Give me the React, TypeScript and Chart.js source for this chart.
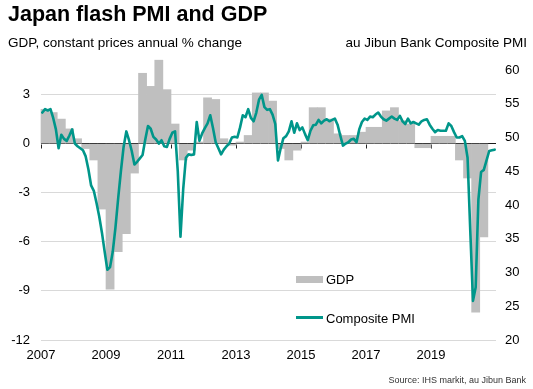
import React, { useEffect, useRef } from "react";
import { Chart, registerables } from "chart.js";

Chart.register(...registerables);

// ---------- data ----------
const gdpStartYear = 2007; // quarterly, from Q1 2007
const gdpValues = [
  2.1, 1.9, 1.5, 0.9,
  0.3, -0.3, -1.0, -4.0,
  -8.9, -6.6, -5.5, -1.8,
  4.3, 3.5, 5.1, 3.3,
  1.2, -1.0, -0.4, 0.1,
  2.8, 2.7, 0.3, -0.1,
  0.1, 0.5, 3.1, 3.1,
  2.6, -0.3, -1.0, -0.4,
  0.1, 2.2, 2.2, 1.5,
  0.6, 0.5, 0.5, 0.7,
  1.0, 1.0, 2.0, 2.2,
  1.4, 1.2, -0.25, -0.25,
  0.45, 0.45, 0.45, -1.0,
  -2.1, -10.3, -5.7,
];

const pmiStartYear = 2007; // monthly, from Jan 2007
const pmiValues = [
  53.7, 54.2, 54.0, 54.2, 52.9, 51.2, 48.4, 50.4, 49.8, 49.5, 50.3, 51.2,
  49.1, 48.7, 48.4, 48.1, 47.2, 45.3, 42.9, 42.1, 40.3, 38.3, 35.9, 33.1,
  30.4, 30.8, 33.1, 36.7, 41.0, 45.0, 48.6, 50.9, 49.6, 48.0, 46.0, 46.4,
  46.9, 47.4, 49.7, 51.7, 51.3, 50.1, 49.7, 49.1, 49.6, 48.7, 48.6, 49.8,
  50.7, 50.9, 45.0, 35.3, 42.3, 47.0, 47.5, 47.4, 47.5, 52.3, 49.5, 50.6,
  51.4, 52.1, 53.3, 51.4, 49.3, 48.4, 47.5, 48.2, 48.7, 49.1, 50.0, 50.1,
  50.0, 51.5, 53.3, 53.0, 54.2, 52.9, 52.4, 53.7, 55.6, 56.3, 54.5, 54.1,
  54.2, 53.4, 52.0, 46.6, 48.4, 49.9, 50.2, 50.9, 52.4, 50.7, 52.1, 51.1,
  51.5, 50.5, 49.6, 51.0, 51.8, 51.9, 52.6, 52.1, 52.5, 52.7, 52.4, 52.6,
  52.8, 51.9, 50.3, 48.8, 49.1, 49.3, 49.7, 49.8, 49.3, 51.2, 52.3, 52.8,
  52.6, 53.1, 53.0, 53.4, 53.7, 53.1, 52.7, 52.5, 52.8, 53.1, 52.8, 52.6,
  53.2, 52.4, 52.0, 52.8, 52.1, 52.3, 52.1, 51.9, 52.4, 52.6, 52.7, 51.9,
  51.3, 50.8, 51.1, 51.0, 51.0, 51.0, 52.1, 51.7, 50.8, 50.0, 50.0, 50.2,
  49.5, 47.0, 36.2, 25.8, 27.8, 40.8, 44.9, 45.2, 46.6, 48.0, 48.1, 48.2,
];

const xTickYears = [2007, 2009, 2011, 2013, 2015, 2017, 2019];
const xRange = [2007, 2021];
const gdpTicks = [-12, -9, -6, -3, 0, 3];
const gdpRange = [-12, 4.5];
const pmiTicks = [20, 25, 30, 35, 40, 45, 50, 55, 60];
const pmiRange = [20, 60];

const TEXT = {
  title: "Japan flash PMI and GDP",
  leftAxis: "GDP, constant prices annual % change",
  rightAxis: "au Jibun Bank Composite PMI",
  gdp: "GDP",
  pmi: "Composite PMI",
  source: "Source: IHS markit, au Jibun Bank",
};

const GRAY = "#bfbfbf";
const TEAL = "#00968a";
const FONT = "'Liberation Sans', Arial, Helvetica, sans-serif";

const zeroTicksPlugin = {
  id: "zeroTicks",
  beforeDatasetsDraw(chart: any) {
    const { ctx, scales } = chart;
    const x = scales.x;
    const y = scales.y;
    const y0 = Math.round(y.getPixelForValue(0)) + 0.5;
    ctx.save();
    ctx.strokeStyle = "#222";
    ctx.lineWidth = 1;
    x.ticks.forEach((t: any) => {
      const px = Math.round(x.getPixelForValue(t.value)) + 0.5;
      ctx.beginPath();
      ctx.moveTo(px, y0);
      ctx.lineTo(px, y0 + 4);
      ctx.stroke();
    });
    ctx.restore();
  },
};

export default function App() {
  const canvasRef = useRef<HTMLCanvasElement | null>(null);

  useEffect(() => {
    const canvas = canvasRef.current;
    if (!canvas) return;
    const gdpPoints = gdpValues.map((v, i) => ({ x: gdpStartYear + (i + 0.5) / 4, y: v }));
    const pmiPoints = pmiValues.map((v, i) => ({ x: pmiStartYear + (i + 0.5) / 12, y: v }));
    const tickFont = { family: FONT, size: 13 };

    const chart = new Chart(canvas, {
      type: "bar",
      data: {
        datasets: [
          {
            type: "line",
            label: TEXT.pmi,
            data: pmiPoints,
            xAxisID: "x",
            yAxisID: "y1",
            borderColor: TEAL,
            backgroundColor: TEAL,
            borderWidth: 2.6,
            pointRadius: 0,
            tension: 0,
            borderJoinStyle: "round",
            borderCapStyle: "round",
            order: 0,
          } as any,
          {
            type: "bar",
            label: TEXT.gdp,
            data: gdpPoints,
            xAxisID: "x",
            yAxisID: "y",
            backgroundColor: GRAY,
            borderWidth: 0,
            barPercentage: 1,
            categoryPercentage: 1,
            clip: false,
            order: 1,
          } as any,
        ],
      },
      options: {
        responsive: false,
        animation: false,
        events: [],
        layout: { padding: { top: 70, left: 0, right: 0, bottom: 0 } },
        plugins: {
          legend: { display: false },
          tooltip: { enabled: false },
          title: { display: false },
        },
        scales: {
          x: {
            type: "linear",
            min: xRange[0],
            max: xRange[1],
            offset: false,
            grid: { display: false, drawTicks: false, offset: false },
            border: { display: false },
            ticks: {
              font: tickFont,
              color: "#000",
              padding: 8,
              maxRotation: 0,
              autoSkip: false,
              callback: (v: any) => String(v),
            },
            afterBuildTicks: (s: any) => {
              s.ticks = xTickYears.map((v) => ({ value: v }));
            },
            afterFit: (s: any) => {
              s.height = 49;
            },
          },
          y: {
            type: "linear",
            position: "left",
            min: gdpRange[0],
            max: gdpRange[1],
            grid: {
              drawTicks: false,
              lineWidth: 1,
              color: (c: any) => (c.tick && c.tick.value === 0 ? "#1a1a1a" : "#d9d9d9"),
            },
            border: { display: false },
            ticks: {
              font: tickFont,
              color: "#000",
              padding: 11,
              callback: (v: any) => String(v),
            },
            afterBuildTicks: (s: any) => {
              s.ticks = gdpTicks.map((v) => ({ value: v }));
            },
            afterFit: (s: any) => {
              s.width = 41;
            },
          },
          y1: {
            type: "linear",
            position: "right",
            min: pmiRange[0],
            max: pmiRange[1],
            grid: { display: false, drawTicks: false },
            border: { display: false },
            ticks: {
              font: tickFont,
              color: "#000",
              padding: 9,
              callback: (v: any) => String(v),
            },
            afterBuildTicks: (s: any) => {
              s.ticks = pmiTicks.map((v) => ({ value: v }));
            },
            afterFit: (s: any) => {
              s.width = 37;
            },
          },
        },
      } as any,
      plugins: [zeroTicksPlugin],
    });

    return () => chart.destroy();
  }, []);

  const abs = (extra: React.CSSProperties): React.CSSProperties => ({
    position: "absolute",
    fontFamily: FONT,
    lineHeight: 1,
    whiteSpace: "nowrap",
    color: "#000",
    ...extra,
  });

  return (
    <div
      style={{
        position: "absolute",
        left: 0,
        top: 0,
        width: 533,
        height: 389,
        background: "#fff",
        overflow: "hidden",
      }}
    >
      <canvas
        ref={canvasRef}
        width={533}
        height={389}
        style={{ position: "absolute", left: 0, top: 0, width: 533, height: 389, display: "block" }}
      />
      <div style={abs({ left: 8, top: 4, fontSize: 21.5, fontWeight: "bold" })}>{TEXT.title}</div>
      <div style={abs({ left: 8, top: 36, fontSize: 13.5 })}>{TEXT.leftAxis}</div>
      <div style={abs({ right: 6, top: 36, fontSize: 13.5 })}>{TEXT.rightAxis}</div>

      <div style={abs({ left: 296, top: 276, width: 27, height: 7, background: GRAY })} />
      <div style={abs({ left: 326, top: 273, fontSize: 13 })}>{TEXT.gdp}</div>
      <div style={abs({ left: 296, top: 316, width: 27, height: 3, background: TEAL })} />
      <div style={abs({ left: 326, top: 312, fontSize: 13 })}>{TEXT.pmi}</div>

      <div style={abs({ right: 7, top: 376, fontSize: 9, color: "#333" })}>{TEXT.source}</div>
    </div>
  );
}
